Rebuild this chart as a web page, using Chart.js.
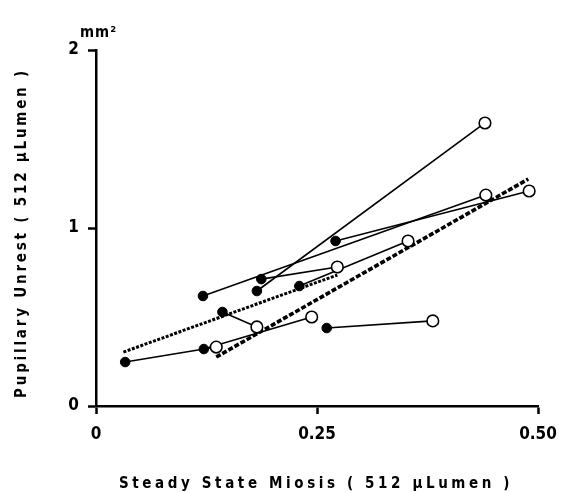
<!DOCTYPE html>
<html>
<head>
<meta charset="utf-8">
<script src="https://cdn.jsdelivr.net/npm/chart.js@4"></script>
<style>
  body { margin: 0; background: #fff; }
</style>
</head>
<body>
<canvas id="myChart" width="563" height="492"></canvas>
<script>
  // filled dot (start) -> open circle (end), same index = same subject
  const filledX = [0.033, 0.122, 0.143, 0.121, 0.187, 0.182, 0.230, 0.271, 0.261];
  const filledY = [0.247, 0.320, 0.528, 0.618, 0.713, 0.646, 0.674, 0.927, 0.438];
  const openX = [0.136, 0.244, 0.182, 0.441, 0.273, 0.440, 0.353, 0.490, 0.381];
  const openY = [0.331, 0.500, 0.444, 1.185, 0.781, 1.590, 0.927, 1.208, 0.478];

  // regression lines
  const regAX = [0.031, 0.273];
  const regAY = [0.303, 0.736];
  const regBX = [0.136, 0.489];
  const regBY = [0.275, 1.275];

  const xTickLabels = ["0", "0.25", "0.50"];
  const yTickLabels = ["0", "1", "2"];
  const xTitle = "Steady State Miosis ( 512 µLumen )";
  const yTitle = "Pupillary Unrest ( 512 µLumen )";
  const yUnit = "mm²";

  const FONT = "'DejaVu Sans Condensed', 'Liberation Sans Narrow', sans-serif";

  const datasets = [];

  datasets.push({
    type: "scatter",
    data: filledX.map((x, i) => ({ x: x, y: filledY[i] })),
    pointRadius: 4.8,
    pointBackgroundColor: "#000",
    pointBorderColor: "#000",
    pointBorderWidth: 1,
    order: 0,
  });
  datasets.push({
    type: "scatter",
    data: openX.map((x, i) => ({ x: x, y: openY[i] })),
    pointRadius: 5.8,
    pointBackgroundColor: "#fff",
    pointBorderColor: "#000",
    pointBorderWidth: 1.6,
    order: 0,
  });

  filledX.forEach((x, i) => {
    datasets.push({
      type: "line",
      data: [{ x: x, y: filledY[i] }, { x: openX[i], y: openY[i] }],
      borderColor: "#000",
      borderWidth: 1.6,
      pointRadius: 0,
      fill: false,
      order: 1,
    });
  });

  datasets.push({
    type: "line",
    data: regAX.map((x, i) => ({ x: x, y: regAY[i] })),
    borderColor: "#000",
    borderWidth: 3,
    borderDash: [3, 1.5],
    pointRadius: 0,
    fill: false,
    order: 2,
  });
  datasets.push({
    type: "line",
    data: regBX.map((x, i) => ({ x: x, y: regBY[i] })),
    borderColor: "#000",
    borderWidth: 3.6,
    borderDash: [5, 2],
    pointRadius: 0,
    fill: false,
    order: 2,
  });

  const titles = {
    id: "titles",
    afterDraw(chart) {
      const ctx = chart.ctx;
      ctx.save();
      ctx.fillStyle = "#000";
      ctx.textBaseline = "middle";
      ctx.textAlign = "center";
      ctx.font = "bold 15px " + FONT;

      // x title, stretched to the reference width
      let w = ctx.measureText(xTitle).width;
      ctx.letterSpacing = ((394 - w) / xTitle.length).toFixed(2) + "px";
      ctx.fillText(xTitle, 316, 484);

      // y title
      ctx.letterSpacing = "0px";
      w = ctx.measureText(yTitle).width;
      ctx.translate(22, 233);
      ctx.rotate(-Math.PI / 2);
      ctx.letterSpacing = ((330 - w) / yTitle.length).toFixed(2) + "px";
      ctx.fillText(yTitle, 0, 0);
      ctx.restore();

      ctx.save();
      ctx.fillStyle = "#000";
      ctx.textBaseline = "middle";
      ctx.textAlign = "left";
      ctx.font = "bold 15px " + FONT;
      ctx.letterSpacing = "1px";
      ctx.fillText(yUnit, 80, 33);
      ctx.restore();
    },
  };

  const config = {
    data: { datasets: datasets },
    options: {
      responsive: false,
      animation: false,
      layout: { padding: { left: 0, top: 50, right: 25, bottom: 0 } },
      plugins: {
        legend: { display: false },
        tooltip: { enabled: false },
      },
      scales: {
        x: {
          type: "linear",
          min: 0,
          max: 0.5,
          afterFit: (s) => { s.height = 86; s.paddingLeft = 0; s.paddingRight = 0; },
          afterBuildTicks: (s) => { s.ticks = [0, 0.25, 0.5].map(v => ({ value: v })); },
          ticks: {
            color: "#000",
            padding: 10,
            maxRotation: 0,
            font: { family: FONT, size: 17, weight: "bold" },
            callback: (v, i) => xTickLabels[i],
          },
          grid: {
            drawOnChartArea: false,
            drawTicks: true,
            tickLength: 8,
            tickWidth: 2.5,
            tickColor: "#000",
          },
          border: { display: true, color: "#000", width: 2.5 },
        },
        y: {
          type: "linear",
          min: 0,
          max: 2,
          afterFit: (s) => { s.width = 96; s.paddingTop = 0; s.paddingBottom = 0; },
          afterBuildTicks: (s) => { s.ticks = [0, 1, 2].map(v => ({ value: v })); },
          ticks: {
            color: "#000",
            padding: 9,
            font: { family: FONT, size: 17, weight: "bold" },
            callback: (v, i) => yTickLabels[i],
          },
          grid: {
            drawOnChartArea: false,
            drawTicks: true,
            tickLength: 8,
            tickWidth: 2.5,
            tickColor: "#000",
          },
          border: { display: true, color: "#000", width: 2.5 },
        },
      },
    },
    plugins: [titles],
  };

  var myChart = new Chart(document.getElementById("myChart"), config);
</script>
</body>
</html>
